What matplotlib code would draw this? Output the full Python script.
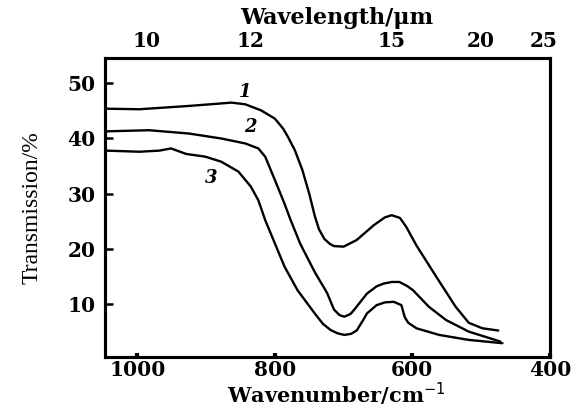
import matplotlib
matplotlib.use("Agg")
import matplotlib.pyplot as plt

# Curve data (wavenumber cm^-1, transmission %)
wn1 = [1045, 997, 925, 863, 843, 820, 800, 788, 781, 771, 760, 750, 742, 736, 728, 720, 714,
       700, 681, 656, 640, 630, 618, 609, 594, 565, 537, 518, 498, 475]
t1 = [45.4, 45.3, 45.9, 46.5, 46.2, 45.1, 43.6, 41.8, 40.3, 37.9, 34.3, 30.0, 26.0, 23.6, 21.8, 20.9, 20.5,
      20.4, 21.6, 24.3, 25.7, 26.1, 25.6, 24.0, 20.6, 14.9, 9.5, 6.6, 5.6, 5.2]

wn2 = [1045, 983, 925, 878, 843, 824, 814, 800, 786, 777, 763, 742, 724, 714, 706, 699, 690, 685,
       666, 652, 642, 630, 619, 608, 599, 576, 551, 518, 472]
t2 = [41.3, 41.5, 40.9, 40.0, 39.1, 38.2, 36.7, 32.5, 28.2, 25.2, 20.9, 15.8, 12.0, 9.0, 8.0, 7.7, 8.2, 8.9,
      11.9, 13.2, 13.7, 14.0, 14.0, 13.3, 12.5, 9.5, 7.1, 5.0, 3.2]

wn3 = [1045, 997, 968, 951, 929, 901, 878, 853, 835, 824, 814, 800, 786, 767, 742, 730, 719,
       709, 699, 689, 681, 672, 666, 652, 640, 627, 616, 611, 606, 594, 561, 518, 469]
t3 = [37.8, 37.6, 37.8, 38.2, 37.2, 36.7, 35.8, 34.0, 31.3, 28.8, 25.2, 21.0, 16.8, 12.5, 8.3, 6.4, 5.3,
      4.7, 4.4, 4.6, 5.2, 7.0, 8.3, 9.8, 10.3, 10.4, 9.8, 7.6, 6.6, 5.6, 4.4, 3.5, 2.9]

bottom_ticks = [1000, 800, 600, 400]
left_ticks = [10, 20, 30, 40, 50]
top_tick_pos = [986, 836, 630, 501, 409]
top_tick_labels = ["10", "12", "15", "20", "25"]

curve_labels = ["1", "2", "3"]
label_pos = [(843, 48.4), (835, 42.1), (893, 32.8)]

fig = plt.figure(figsize=(5.77, 4.08), dpi=100)
ax = fig.add_axes([0.182, 0.125, 0.771, 0.733])

for wn, t in [(wn1, t1), (wn2, t2), (wn3, t3)]:
    ax.plot(wn, t, color="black", lw=1.7, solid_capstyle="round", solid_joinstyle="round")

for lab, (x, y) in zip(curve_labels, label_pos):
    ax.text(x, y, lab, fontsize=13, fontweight="bold", fontstyle="italic",
            family="DejaVu Serif", ha="center", va="center")

ax.set_xlim(1047, 407)
ax.set_ylim(0.4, 54.6)

tick_font = dict(family="DejaVu Serif", weight="bold", size=14.5)

ax.set_xticks(bottom_ticks)
ax.set_xticklabels([str(v) for v in bottom_ticks], **tick_font)
ax.set_yticks(left_ticks)
ax.set_yticklabels([str(v) for v in left_ticks], **tick_font)
ax.tick_params(axis="x", direction="in", length=3, width=3, pad=2)
ax.tick_params(axis="y", direction="in", length=6, width=1.8, pad=7)

for s in ax.spines.values():
    s.set_linewidth(2.2)

ax.set_xlabel("Wavenumber/cm$^{-1}$", family="DejaVu Serif", weight="bold", size=15)
ax.xaxis.set_label_coords(0.52, -0.078)
ax.set_ylabel("Transmission/%", family="Liberation Serif", size=17)
ax.yaxis.set_label_coords(-0.14, 0.5)

ax2 = ax.twiny()
ax2.set_xlim(ax.get_xlim())
ax2.set_xticks(top_tick_pos)
ax2.set_xticklabels(top_tick_labels, **tick_font)
ax2.tick_params(axis="x", length=0, pad=5)
for s in ax2.spines.values():
    s.set_linewidth(2.2)
ax2.set_xlabel("Wavelength/μm", family="DejaVu Serif", weight="bold", size=16)
ax2.xaxis.set_label_coords(0.52, 1.115)

fig.savefig("out.png", dpi=100)
